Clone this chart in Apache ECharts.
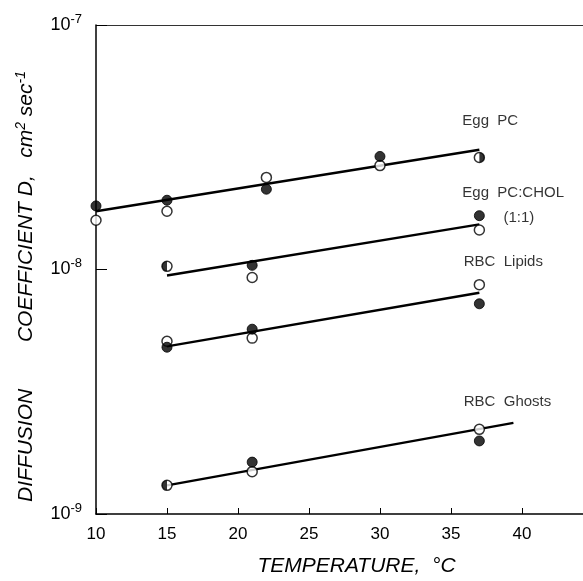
<!DOCTYPE html>
<html>
<head>
<meta charset="utf-8">
<script src="https://cdn.jsdelivr.net/npm/echarts@6/dist/echarts.min.js"></script>
<style>
  html, body { margin: 0; padding: 0; background: #fff; }
  #chart { width: 583px; height: 581px; }
</style>
</head>
<body>
<div id="chart"></div>
<script>
// temperature (°C), diffusion coefficient (cm^2/sec)
const eggPcOpen = [[10, 1.59e-8], [15, 1.73e-8], [22, 2.38e-8], [30, 2.66e-8]];
const eggPcFilled = [[10, 1.82e-8], [15, 1.92e-8], [22, 2.13e-8], [30, 2.90e-8]];
const eggPcHalf = [[37, 2.87e-8]];
const eggPcFit = [[10, 1.73e-8], [37, 3.09e-8]];

const cholOpen = [[21, 9.27e-9], [37, 1.45e-8]];
const cholFilled = [[21, 1.04e-8], [37, 1.66e-8]];
const cholHalf = [[15, 1.03e-8]];
const cholFit = [[15, 9.45e-9], [37, 1.53e-8]];

const lipidOpen = [[15, 5.09e-9], [21, 5.24e-9], [37, 8.67e-9]];
const lipidFilled = [[15, 4.81e-9], [21, 5.70e-9], [37, 7.24e-9]];
const lipidFit = [[15, 4.85e-9], [37, 8.03e-9]];

const ghostOpen = [[21, 1.49e-9], [37, 2.22e-9]];
const ghostFilled = [[21, 1.63e-9], [37, 1.99e-9]];
const ghostHalf = [[15, 1.31e-9]];
const ghostFit = [[15, 1.31e-9], [39.4, 2.36e-9]];

const curveLabels = [
  { text: "Egg  PC", at: [35.8, 4.05e-8] },
  { text: "Egg  PC:CHOL", at: [35.8, 2.05e-8] },
  { text: "(1:1)", at: [38.7, 1.63e-8] },
  { text: "RBC  Lipids", at: [35.9, 1.07e-8] },
  { text: "RBC  Ghosts", at: [35.9, 2.88e-9] }
];

const xTicks = [10, 15, 20, 25, 30, 35, 40];

const ink = "#000";
const font = "Liberation Sans";

const leftHalf = "path://M10,0 A10,10 0 0,0 10,20 Z";
const rightHalf = "path://M0,0 A10,10 0 0,1 0,20 Z";

function fitLine(data) {
  return {
    type: "line", data: data, symbol: "none", silent: true,
    lineStyle: { color: ink, width: 2.4 }, z: 2
  };
}
function openDots(data) {
  return {
    type: "scatter", data: data, symbol: "circle", symbolSize: 10,
    itemStyle: { color: "#fff", borderColor: ink, borderWidth: 1.5 }, z: 3
  };
}
function filledDots(data) {
  return {
    type: "scatter", data: data, symbol: "circle", symbolSize: 10,
    itemStyle: { color: ink, borderColor: ink, borderWidth: 1 }, z: 4
  };
}
function halfDots(data, side) {
  return [
    openDots(data),
    {
      type: "scatter", data: data, symbol: side === "left" ? leftHalf : rightHalf,
      symbolSize: 10, symbolKeepAspect: true,
      symbolOffset: [side === "left" ? -2.5 : 2.5, 0],
      itemStyle: { color: ink }, z: 5
    }
  ];
}

const chart = echarts.init(document.getElementById("chart"));
chart.setOption({
  animation: false,
  backgroundColor: "#fff",
  grid: { left: 96, right: 0, top: 25, bottom: 67, outerBoundsMode: "none" },
  xAxis: [
    {
      type: "value", min: 10, max: 44.3, interval: 5,
      name: "TEMPERATURE,  °C", nameLocation: "middle", nameGap: 42,
      nameTextStyle: {
        fontFamily: font, fontStyle: "italic", fontSize: 21, color: ink,
        padding: [0, 0, 0, 34]
      },
      axisLine: { lineStyle: { color: ink, width: 1.5 } },
      axisTick: { inside: true, length: 6, lineStyle: { color: ink } },
      splitLine: { show: false },
      axisLabel: {
        fontFamily: font, fontSize: 17, color: ink, margin: 12,
        formatter: v => (xTicks.indexOf(v) >= 0 ? String(v) : "")
      }
    },
    {
      type: "value", position: "top", min: 10, max: 44.3,
      axisLine: { show: true, lineStyle: { color: "#333", width: 1.2 } },
      axisTick: { show: false }, axisLabel: { show: false }, splitLine: { show: false }
    }
  ],
  yAxis: {
    type: "log", logBase: 10, min: 1e-9, max: 1e-7,
    name: "DIFFUSION        COEFFICIENT D,   cm{sup|2} sec{sup|-1}",
    nameLocation: "middle", nameRotate: 90, nameGap: 57,
    nameTextStyle: {
      fontFamily: font, fontStyle: "italic", fontSize: 21, color: ink,
      padding: [0, 34, 0, 0],
      rich: { sup: { fontFamily: font, fontStyle: "italic", fontSize: 14, color: ink, padding: [0, 0, 11, 0] } }
    },
    axisLine: { show: true, lineStyle: { color: ink, width: 1.5 } },
    axisTick: { inside: true, length: 11, lineStyle: { color: ink } },
    minorTick: { show: false },
    splitLine: { show: false },
    axisLabel: {
      fontFamily: font, fontSize: 18, color: ink, margin: 14,
      formatter: v => "10{sup|" + Math.round(Math.log10(v)) + "}",
      rich: { sup: { fontFamily: font, fontSize: 13, color: ink, padding: [0, 0, 12, 0] } }
    }
  },
  series: [
    fitLine(eggPcFit), openDots(eggPcOpen), filledDots(eggPcFilled), ...halfDots(eggPcHalf, "right"),
    fitLine(cholFit), openDots(cholOpen), filledDots(cholFilled), ...halfDots(cholHalf, "left"),
    fitLine(lipidFit), openDots(lipidOpen), filledDots(lipidFilled),
    fitLine(ghostFit), openDots(ghostOpen), filledDots(ghostFilled), ...halfDots(ghostHalf, "left"),
    {
      type: "scatter", symbolSize: 0, silent: true, z: 6,
      data: curveLabels.map(l => ({ value: l.at, name: l.text })),
      label: {
        show: true, position: "right", distance: 0, formatter: p => p.name,
        fontFamily: font, fontSize: 15, color: ink
      }
    }
  ]
});
</script>
</body>
</html>
